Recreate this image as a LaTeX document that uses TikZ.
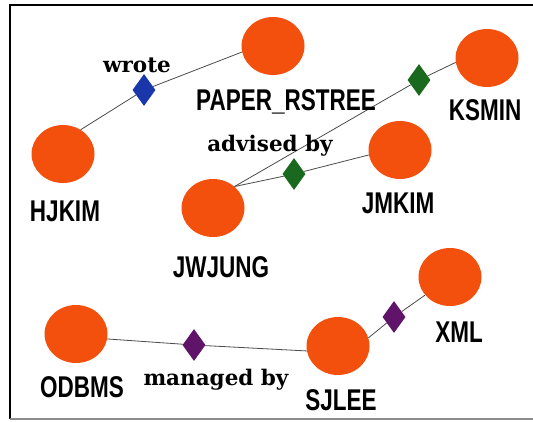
\documentclass[tikz,border=0pt]{standalone}
\usepackage{fontspec}
\usetikzlibrary{shapes.geometric}
\newfontfamily\labfont{Liberation Sans}[FakeStretch=0.75]
\newfontfamily\relfont{DejaVu Serif}
\definecolor{entorange}{RGB}{242,80,12}
\definecolor{relblue}{RGB}{25,55,170}
\definecolor{relgreen}{RGB}{25,105,30}
\definecolor{relpurple}{RGB}{95,20,105}
\begin{document}
\begin{tikzpicture}[x=1pt,y=-1pt,
  ent/.style={ellipse, fill=entorange, minimum width=63pt, minimum height=58pt, inner sep=0pt},
  rel/.style={diamond, minimum width=23pt, minimum height=32pt, inner sep=0pt},
  entlabel/.style={anchor=base, inner sep=0pt, font=\labfont\bfseries\fontsize{30pt}{32pt}\selectfont},
  rellabel/.style={anchor=base, inner sep=0pt, font=\relfont\bfseries\fontsize{21.5pt}{23pt}\selectfont},
  conn/.style={draw=black!70, line width=0.8pt}]
\useasboundingbox (0,0) rectangle (533,421);
\fill[white] (0,0) rectangle (533,421);
% frame
\draw[black, line width=1.2pt] (10,419) -- (10,5) -- (533,5);
\draw[black!45, line width=1.2pt] (10,419) -- (533,419);
% entities
\node[ent] (paper) at (273,46) {};
\node[ent] (ksmin) at (487,58) {};
\node[ent] (hjkim) at (63,154) {};
\node[ent] (jmkim) at (400,150) {};
\node[ent] (jwjung) at (213,208) {};
\node[ent] (xml) at (450,277) {};
\node[ent] (odbms) at (76,334) {};
\node[ent] (sjlee) at (338,346) {};
% relationships
\node[rel, fill=relblue] (wrote) at (144,90) {};
\node[rel, fill=relgreen] (adv1) at (419,80) {};
\node[rel, fill=relgreen] (adv2) at (294,174) {};
\node[rel, fill=relpurple] (man1) at (194,345) {};
\node[rel, fill=relpurple] (man2) at (394,317) {};
% connectors
\draw[conn] (hjkim.54) -- (wrote);
\draw[conn] (wrote) -- (paper.191);
\draw[conn] (jwjung.45) -- (adv1);
\draw[conn] (adv1) -- (ksmin.188);
\draw[conn] (jwjung.45) -- (adv2);
\draw[conn] (adv2) -- (jmkim.189);
\draw[conn] (odbms.351) -- (man1);
\draw[conn] (man1) -- (sjlee.189);
\draw[conn] (sjlee.15) -- (man2);
\draw[conn] (man2) -- (xml.216);
% entity labels
\node[entlabel] (lpaper) at (286,110) {PAPER\_RSTREE};
\node[entlabel] (lksmin) at (485,120) {KSMIN};
\node[entlabel] (lhjkim) at (65,221) {HJKIM};
\node[entlabel] (ljmkim) at (398,213) {JMKIM};
\node[entlabel] (ljwjung) at (221,277) {JWJUNG};
\node[entlabel] (lxml) at (459,342) {XML};
\node[entlabel] (lodbms) at (82,397) {ODBMS};
\node[entlabel] (lsjlee) at (341,410) {SJLEE};
% relationship labels
\node[rellabel] (lwrote) at (137,72) {wrote};
\node[rellabel] (ladv) at (270,151) {advised by};
\node[rellabel] (lman) at (216,385) {managed by};
\end{tikzpicture}
\end{document}
